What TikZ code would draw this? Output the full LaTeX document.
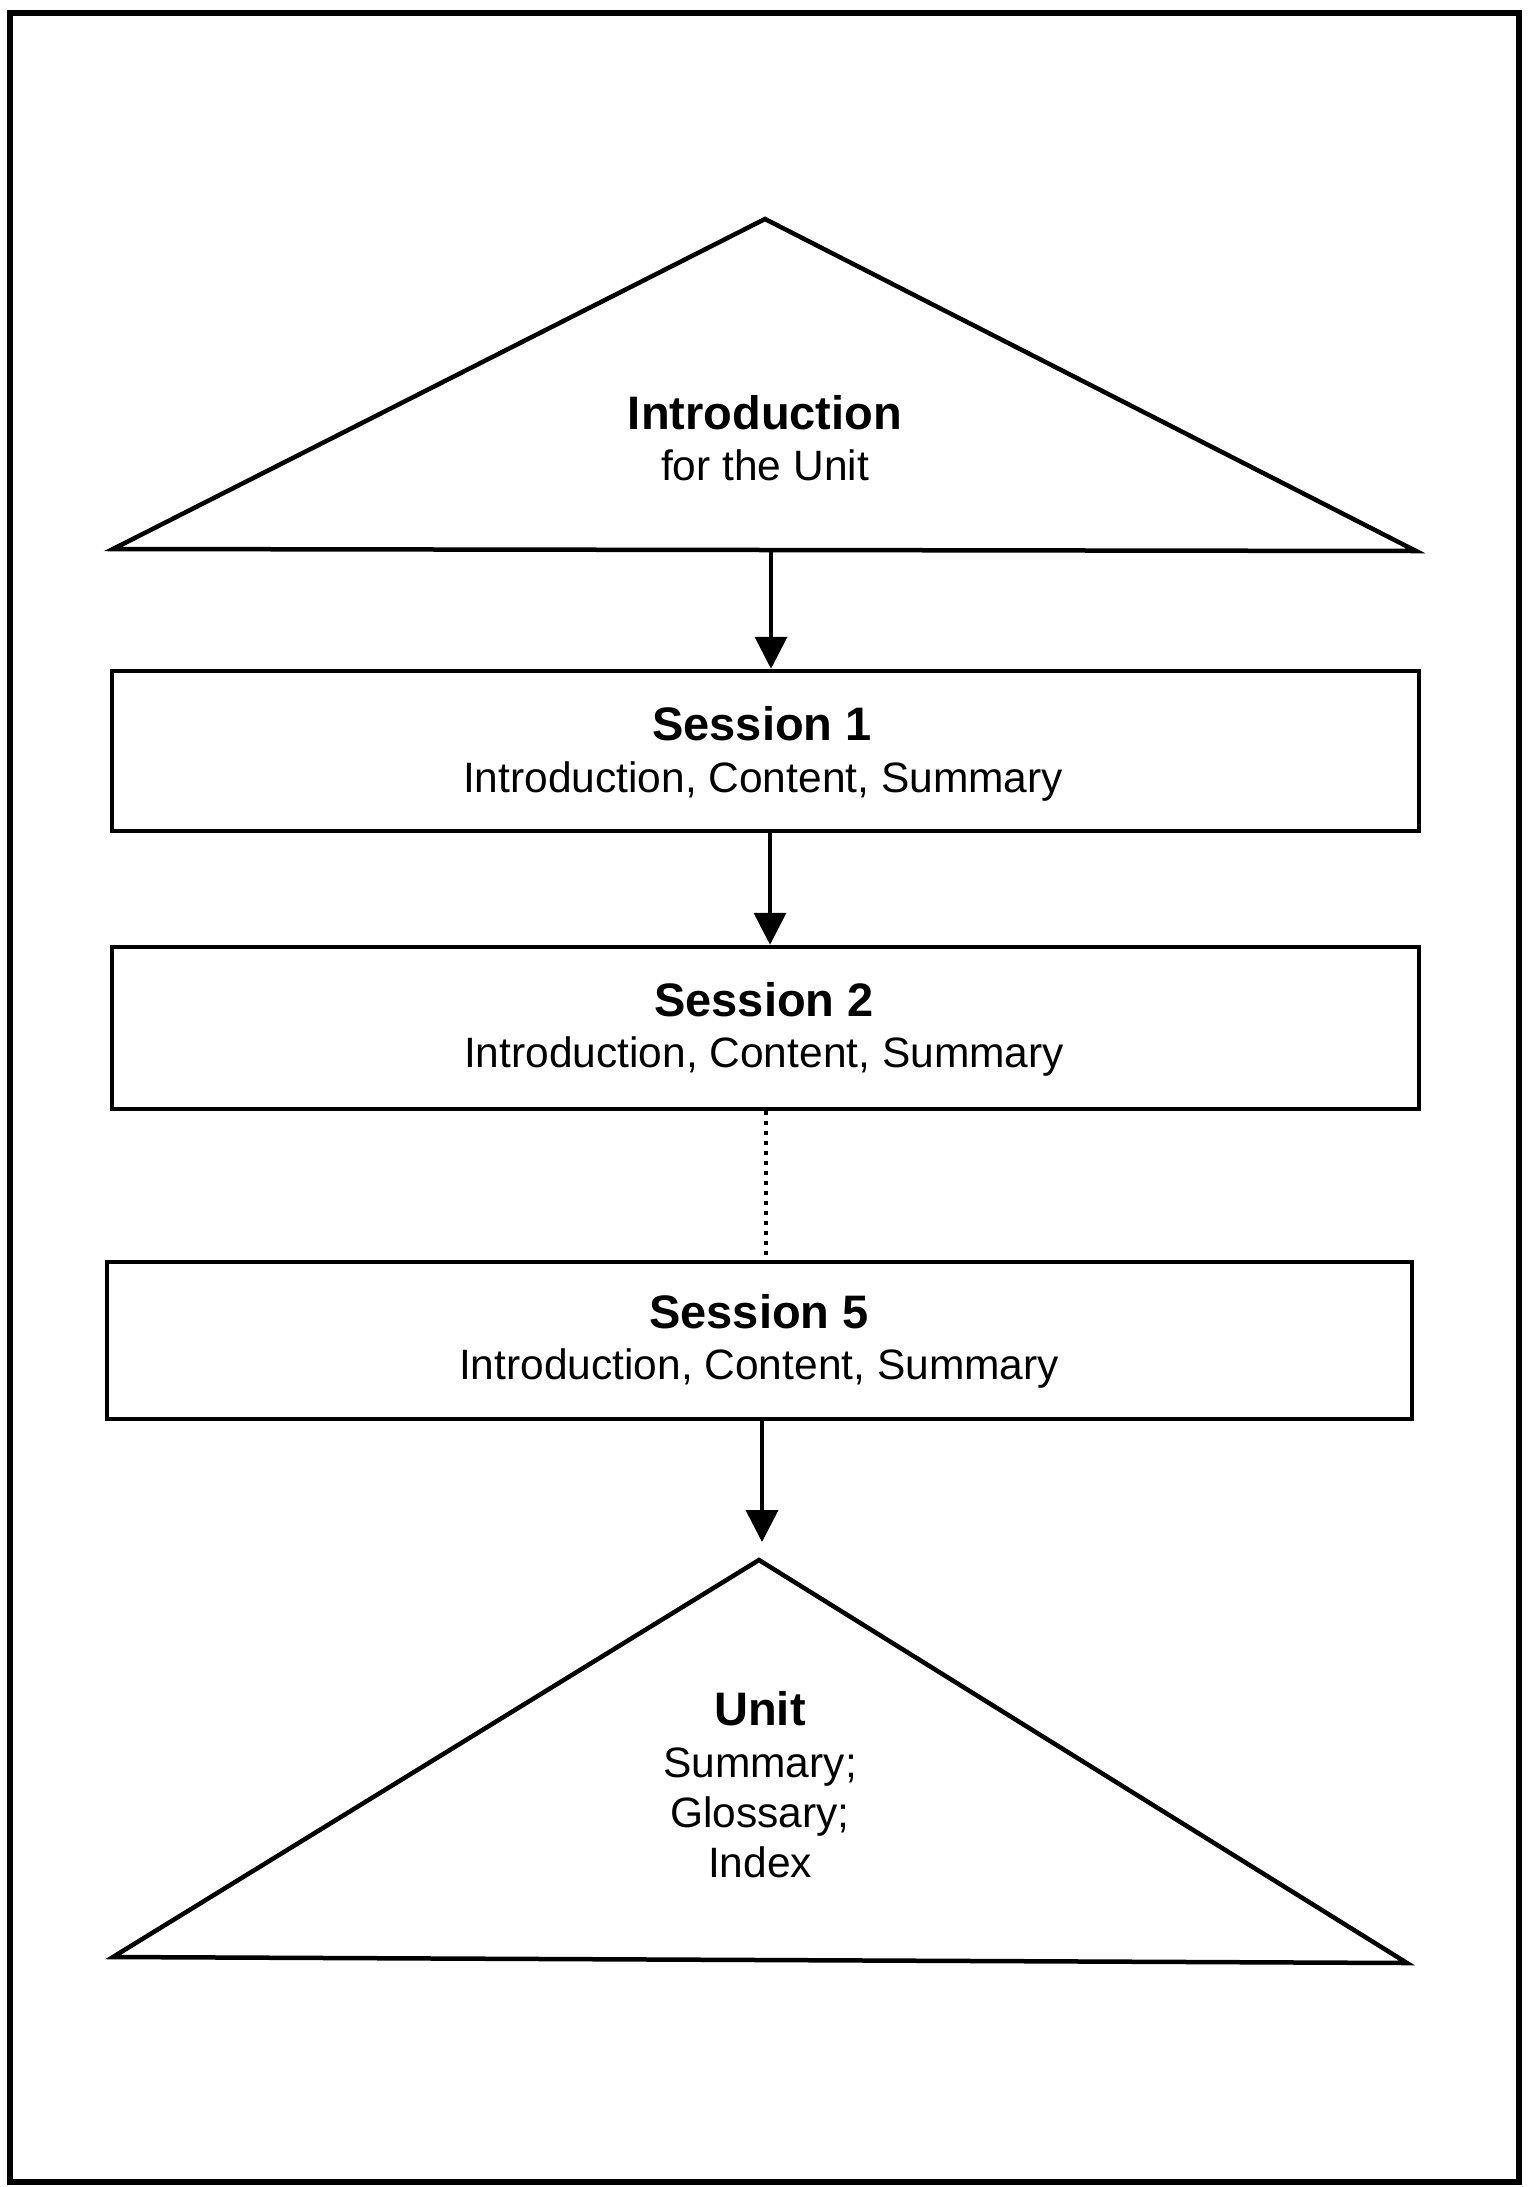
\documentclass[tikz,border=0pt]{standalone}
\usepackage{fontspec}
\setmainfont{Liberation Sans}
\usetikzlibrary{arrows.meta}
\newcommand\diagbold{\fontsize{47pt}{52pt}\selectfont\bfseries}
\newcommand\diagreg{\fontsize{42.5pt}{52pt}\selectfont}
\begin{document}
\begin{tikzpicture}[x=1pt,y=-1pt,
  shapeline/.style={line width=4.5pt, line join=miter},
  boxnode/.style={draw, line width=4.5pt, rectangle, inner sep=0pt},
  txtb/.style={anchor=base, inner sep=0pt, font=\diagbold},
  txtr/.style={anchor=base, inner sep=0pt, font=\diagreg},
  arr/.style={line width=3.8pt, -{Triangle[length=32pt,width=32pt]}},
  dotline/.style={line width=4.5pt, dash pattern=on 4pt off 6pt}
]
\useasboundingbox (0,0) rectangle (1530,2187);
\fill[white] (0,0) rectangle (1530,2187);
% frame
\node[draw, line width=5.5pt, minimum width=1509pt, minimum height=2169pt, inner sep=0pt] (frame) at (764.5,1097.5) {};

% top triangle
\coordinate (t1apex) at (765,219);
\coordinate (t1left) at (113,549);
\coordinate (t1right) at (1416,551);
\coordinate (t1base) at (771,550);
\draw[shapeline] (t1apex) -- (t1left) -- (t1right) -- cycle;
\node[txtb] (t1a) at (765,429) {Introduction};
\node[txtr] (t1b) at (765,480) {for the Unit};

% session boxes
\node[boxnode, minimum width=1307pt, minimum height=160pt] (s1) at (765.5,751) {};
\node[txtb] (s1a) at (762,740) {Session 1};
\node[txtr] (s1b) at (763,792) {Introduction, Content, Summary};

\node[boxnode, minimum width=1307pt, minimum height=162pt] (s2) at (765.5,1028) {};
\node[txtb] (s2a) at (764,1016) {Session 2};
\node[txtr] (s2b) at (764,1067) {Introduction, Content, Summary};

\node[boxnode, minimum width=1305pt, minimum height=157pt] (s5) at (759.5,1340.5) {};
\node[txtb] (s5a) at (759,1328) {Session 5};
\node[txtr] (s5b) at (759,1379) {Introduction, Content, Summary};

% bottom triangle
\coordinate (t2apex) at (759,1560);
\coordinate (t2left) at (113,1957);
\coordinate (t2right) at (1407,1963);
\coordinate (t2top) at (762,1542);
\draw[shapeline] (t2apex) -- (t2left) -- (t2right) -- cycle;
\node[txtb] (t2a) at (760,1725) {Unit};
\node[txtr] (t2b) at (760,1777) {Summary;};
\node[txtr] (t2c) at (760,1827) {Glossary;};
\node[txtr] (t2d) at (760,1877) {Index};

% connectors
\draw[arr] (t1base) -- (t1base |- s1.north);
\coordinate (c2) at (770,0);
\draw[arr] (c2 |- s1.south) -- (c2 |- s2.north);
\coordinate (c3) at (766,0);
\draw[dotline] (c3 |- s2.south) -- (c3 |- s5.north);
\draw[arr] (t2top |- s5.south) -- (t2top);
\end{tikzpicture}
\end{document}
